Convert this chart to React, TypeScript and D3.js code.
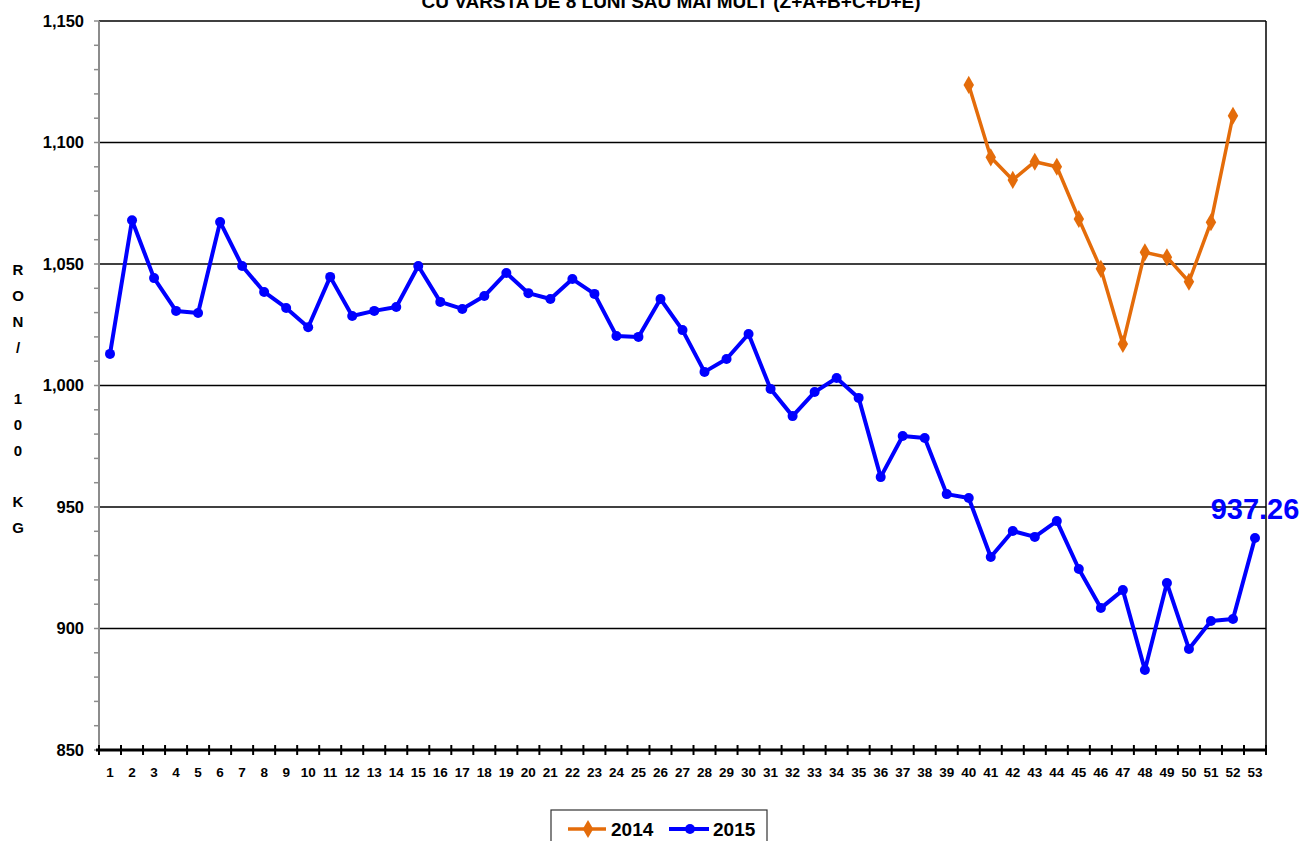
import React from 'react';
import * as d3 from 'd3';

// weeks 1..53
const weeks = d3.range(1, 54).map(String);

// 2015 series (RON / 100 kg)
const values2015 = [
  1013, 1068, 1044.2, 1030.7, 1029.8, 1067.3, 1049.2, 1038.5, 1031.9, 1024,
  1044.7, 1028.6, 1030.7, 1032.3, 1049.2, 1034.4, 1031.5, 1036.8, 1046.3, 1038,
  1035.6, 1043.8, 1037.7, 1020.4, 1020, 1035.6, 1022.8, 1005.6, 1010.9, 1021.2,
  998.6, 987.4, 997.3, 1003.1, 994.9, 962.3, 979.2, 978.4, 955.3, 953.7,
  929.4, 940.1, 937.7, 944.2, 924.5, 908.4, 915.8, 882.9, 918.7, 891.6,
  903.1, 903.9, 937.26,
];

// 2014 series, only weeks 40..52 present
const weeks2014 = d3.range(40, 53).map(String);
const values2014 = [
  1123.7, 1093.9, 1084.6, 1092.1, 1090, 1068.5, 1048, 1017.1, 1054.8, 1052.8,
  1042.7, 1067.2, 1111,
];

const yTicks = [850, 900, 950, 1000, 1050, 1100, 1150];
const yLabel = ['R', 'O', 'N', '/', '', '1', '0', '0', '', 'K', 'G'];
const title = 'CU VARSTA DE 8 LUNI SAU MAI MULT (Z+A+B+C+D+E)';

const W = 1306;
const H = 841;
const margin = { top: 21, right: 40, bottom: 91, left: 99 };
const font = 'Arial, "Liberation Sans", sans-serif';
const blue = '#0000ff';
const orange = '#e46c0a';

export default function App() {
  const x = d3.scaleBand<string>()
    .domain(weeks)
    .range([margin.left, W - margin.right]);
  const y = d3.scaleLinear()
    .domain([850, 1150])
    .range([H - margin.bottom, margin.top]);

  const cx = (w: string) => (x(w) ?? 0) + x.bandwidth() / 2;
  const line = d3.line<[string, number]>()
    .x(d => cx(d[0]))
    .y(d => y(d[1]));

  const d2015: [string, number][] = weeks.map((w, i) => [w, values2015[i]]);
  const d2014: [string, number][] = weeks2014.map((w, i) => [w, values2014[i]]);

  const x0 = margin.left;
  const x1 = W - margin.right;
  const yb = y(850);
  const yt = y(1150);
  const minor = d3.range(850, 1151, 10);
  const boundaries = d3.range(0, weeks.length + 1).map(i => x0 + i * x.step());
  const last = d2015[d2015.length - 1];

  const diamond = d3.symbol().type(d3.symbolDiamond).size(95)();

  return (
    <svg width={W} height={H} style={{ position: 'absolute', left: 0, top: 0, background: '#fff' }}
      fontFamily={font}>
      <text x={671} y={8} textAnchor="middle" fontSize={19} fontWeight="bold">{title}</text>

      {/* gridlines */}
      {yTicks.filter(t => t > 850).map(t => (
        <line key={t} x1={x0} x2={x1} y1={y(t)} y2={y(t)} stroke="#000" strokeWidth={1.5} />
      ))}
      <line x1={x1} x2={x1} y1={yt} y2={yb} stroke="#000" strokeWidth={1.5} />

      {/* y axis */}
      <line x1={x0} x2={x0} y1={yt} y2={yb} stroke="#8c8c8c" strokeWidth={2} />
      {minor.map(t => (
        <line key={t} x1={x0 - 5} x2={x0} y1={y(t)} y2={y(t)} stroke="#8c8c8c" strokeWidth={1.5} />
      ))}
      {yTicks.map(t => (
        <text key={t} x={84} y={y(t)} dy="0.35em" textAnchor="end" fontSize={16.5} fontWeight="bold">
          {d3.format(',')(t)}
        </text>
      ))}
      {yLabel.map((c, i) => (
        <text key={i} x={18} y={270 + i * 25.8} dy="0.35em" textAnchor="middle" fontSize={15} fontWeight="bold">{c}</text>
      ))}

      {/* x axis */}
      <line x1={x0 - 3} x2={x1} y1={yb} y2={yb} stroke="#000" strokeWidth={3} />
      {boundaries.map((bx, i) => (
        <line key={i} x1={bx} x2={bx} y1={yb - 5} y2={yb + 5} stroke="#000" strokeWidth={2} />
      ))}
      {weeks.map(w => (
        <text key={w} x={cx(w)} y={777} textAnchor="middle" fontSize={13.5} fontWeight="bold">{w}</text>
      ))}

      {/* 2014 */}
      <path d={line(d2014) ?? ''} fill="none" stroke={orange} strokeWidth={3.5} strokeLinejoin="round" />
      {d2014.map(d => (
        <path key={d[0]} d={diamond ?? ''} transform={`translate(${cx(d[0])},${y(d[1])})`} fill={orange} />
      ))}

      {/* 2015 */}
      <path d={line(d2015) ?? ''} fill="none" stroke={blue} strokeWidth={4} strokeLinejoin="round" />
      {d2015.map(d => (
        <circle key={d[0]} cx={cx(d[0])} cy={y(d[1])} r={5} fill={blue} />
      ))}
      <text x={cx(last[0])} y={y(last[1]) - 19} textAnchor="middle" fontSize={29} fontWeight="bold" fill={blue}>
        {last[1].toFixed(2)}
      </text>

      {/* legend */}
      <rect x={551} y={810} width={216} height={40} fill="#fff" stroke="#333" strokeWidth={1.2} />
      <line x1={568} x2={606} y1={829} y2={829} stroke={orange} strokeWidth={3.5} />
      <path d={diamond ?? ''} transform="translate(588,829)" fill={orange} />
      <text x={611} y={836} fontSize={19} fontWeight="bold">2014</text>
      <line x1={669} x2={709} y1={829} y2={829} stroke={blue} strokeWidth={4} />
      <circle cx={690} cy={829} r={5} fill={blue} />
      <text x={713} y={836} fontSize={19} fontWeight="bold">2015</text>
    </svg>
  );
}
